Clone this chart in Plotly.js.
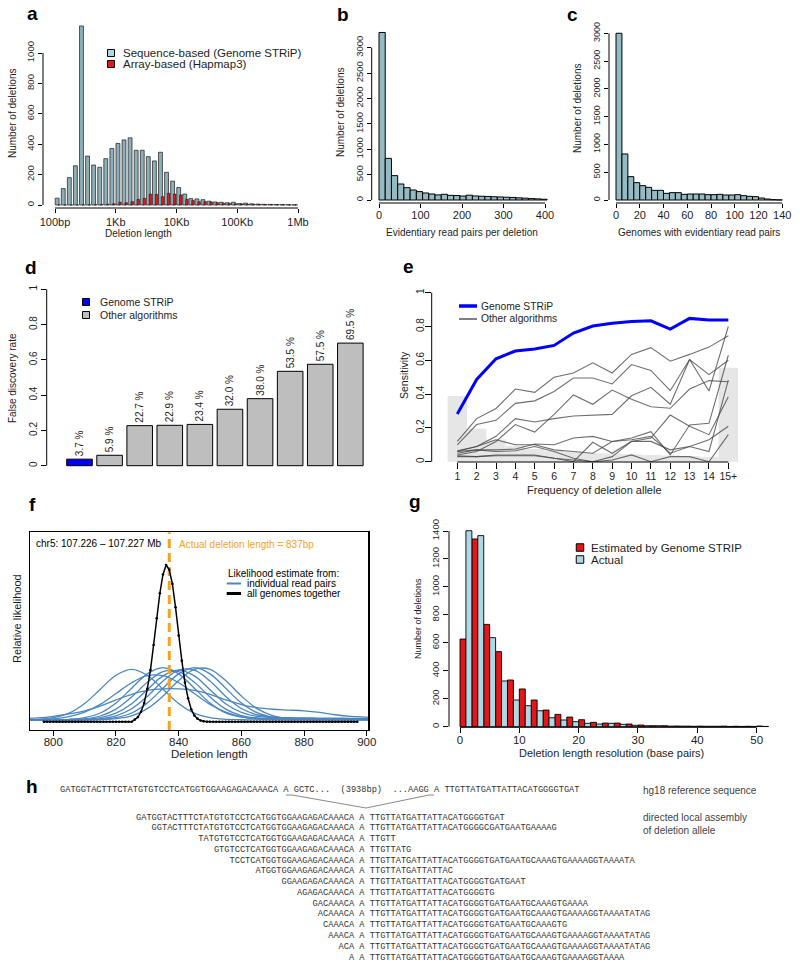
<!DOCTYPE html>
<html><head><meta charset="utf-8">
<script src="https://cdn.plot.ly/plotly-3.0.1.min.js"></script>
<style>html,body{margin:0;padding:0;background:#fff;}#fig{width:800px;height:964px;}</style>
</head><body><div id="fig"></div>
<script>
// ================= DATA =================
// --- panel a: deletion length histogram (log10 bins) ---
const aLogBinStart = 2.0;
const aLogBinWidth = 0.1;
const aSequenceBased = [45,108,180,258,1178,322,263,248,305,372,405,428,442,360,360,318,290,347,215,157,115,72,42,40,35,25,20,18,15,18,10,12,8,6,5,4,3,2,2,1];
const aArrayBased    = [0,0,0,0,0,1,2,3,5,8,18,15,22,37,44,72,70,55,77,72,66,37,29,22,22,20,15,12,10,8,7,5,5,4,3,3,2,2,1,1];
const aXTickVals = [2,3,4,5,6];
const aXTickText = ['100bp','1Kb','10Kb','100Kb','1Mb'];
const aYTickVals = [0,200,400,600,800,1000];

// --- panel b: evidentiary read pairs per deletion ---
const bBinWidth = 15;
const bCounts = [3300,820,480,315,243,197,165,138,118,100,112,92,88,78,95,80,74,70,64,60,55,50,42,36,28,22,15];
const bXTickVals = [0,100,200,300,400];
const bYTickVals = [0,500,1000,1500,2000,2500,3000];

// --- panel c: genomes with evidentiary read pairs ---
const cBinWidth = 5;
const cCounts = [3000,828,420,312,258,228,174,174,120,132,132,102,108,108,108,96,96,102,90,90,96,78,66,60,36,18,6,2];
const cXTickVals = [0,20,40,60,80,100,120,140];
const cYTickVals = [0,500,1000,1500,2000,2500,3000];

// --- panel d: false discovery rate ---
const dFDR = [0.037,0.059,0.227,0.229,0.234,0.320,0.380,0.535,0.575,0.695];
const dLabels = ['3.7 %','5.9 %','22.7 %','22.9 %','23.4 %','32.0 %','38.0 %','53.5 %','57.5 %','69.5 %'];
const dIsGenomeSTRiP = [true,false,false,false,false,false,false,false,false,false];
const dYTickVals = [0,0.2,0.4,0.6,0.8,1];
const dYTickText = ['0','0.2','0.4','0.6','0.8','1'];

// --- panel e: sensitivity by allele frequency ---
const eFreq = [1,2,3,4,5,6,7,8,9,10,11,12,13,14,15];
const eFreqLabels = ['1','2','3','4','5','6','7','8','9','10','11','12','13','14','15+'];
const eAlleleDistribution = [0.389,0.195,0.132,0.095,0.075,0.065,0.058,0.052,0.048,0.044,0.04,0.036,0.033,0.03,0.556];
const eGenomeSTRiP = [0.282,0.487,0.609,0.655,0.667,0.688,0.761,0.803,0.819,0.830,0.834,0.785,0.848,0.838,0.838];
const eOther1 = [0.12,0.255,0.315,0.43,0.41,0.50,0.525,0.585,0.525,0.635,0.675,0.595,0.635,0.678,0.745];
const eOther2 = [0.10,0.22,0.245,0.345,0.36,0.415,0.495,0.495,0.46,0.575,0.54,0.42,0.605,0.515,0.60];
const eOther3 = [0.06,0.09,0.15,0.255,0.235,0.255,0.27,0.275,0.28,0.39,0.44,0.34,0.605,0.418,0.80];
const eOther4 = [0.04,0.06,0.12,0.22,0.175,0.28,0.395,0.34,0.424,0.37,0.325,0.316,0.43,0.48,0.473];
const eOther5 = [0.065,0.09,0.13,0.10,0.10,0.07,0.06,0.05,0.12,0.13,0.15,0.05,0.09,0.06,0.483];
const eOther6 = [0.06,0.07,0.07,0.075,0.105,0.10,0.14,0.15,0.12,0.14,0.178,0.04,0.217,0.227,0.63];
const eOther7 = [0.05,0.07,0.06,0.065,0.09,0.06,0.02,0.0,0.03,0.12,0.14,0.276,0.21,0.16,0.385];
const eOther8 = [0.03,0.03,0.04,0.04,0.04,0.02,0.0,0.115,0.05,0.12,0.12,0.07,0.09,0.13,0.21];
const eOther9 = [0.035,0.03,0.035,0.035,0.035,0.02,0.01,0.0,0.01,0.04,0.0,0.03,0.03,0.0,0.16];
const eYTickVals = [0,0.2,0.4,0.6,0.8,1];
const eYTickText = ['0','0.2','0.4','0.6','0.8','1'];

// --- panel f: likelihood of deletion length ---
const fActualLength = 837;
const fBlackXStart = 797;
const fBlackY = [0,0,0,0,0,0,0,0,0,0,0,0,0,0,0,0,0,0,0,0,0,0,0,0,0,0,0,0,0,
  0.014,0.03,0.064,0.12,0.21,0.33,0.49,0.66,0.82,0.94,1.0,0.97,0.88,0.73,0.55,0.39,0.25,0.15,0.08,0.04,0.02,0.008,0.003,
  0,0,0,0,0,0,0,0,0,0,0,0,0,0,0,0,0,0,0,0,0,0,0,0,0,0,0,0,0,0,0,0,0,0,0,0,0,0,0,0,0,0,0,0,0,0,0,0,0];
const fBlueX = [790,795,800,805,810,815,820,825,830,835,840,845,850,855,860,865,870,875,880,885,890,895,900,905];
const fBlue1 = [.013,.016,.026,.055,.117,.208,.297,.335,.297,.208,.117,.055,.026,.016,.013,.012,.012,.012,.012,.012,.012,.012,.012,.012];
const fBlue2 = [.012,.012,.013,.016,.027,.056,.12,.214,.306,.345,.306,.214,.12,.056,.03,.022,.02,.02,.02,.02,.02,.019,.018,.018];
const fBlue3 = [.012,.012,.012,.014,.019,.037,.081,.158,.252,.32,.32,.252,.158,.081,.04,.025,.02,.018,.017,.016,.015,.015,.015,.015];
const fBlue4 = [.012,.012,.012,.013,.016,.026,.055,.115,.205,.293,.33,.293,.205,.115,.06,.035,.028,.026,.025,.024,.023,.022,.021,.02];
const fBlue5 = [.012,.012,.012,.012,.014,.019,.038,.083,.162,.26,.33,.33,.26,.162,.085,.045,.03,.025,.022,.02,.019,.018,.018,.018];
const fBlue6 = [.012,.012,.012,.012,.013,.016,.027,.056,.12,.214,.306,.345,.306,.214,.12,.058,.03,.02,.016,.015,.015,.015,.015,.015];
const fBlue7 = [.012,.012,.012,.012,.012,.014,.02,.038,.084,.164,.263,.335,.335,.263,.164,.084,.04,.022,.016,.014,.013,.013,.012,.012];
const fBlue8 = [.012,.014,.019,.033,.062,.111,.18,.249,.294,.294,.249,.18,.111,.062,.033,.019,.014,.012,.012,.012,.012,.012,.012,.012];
const fBlue9 = [.02,.025,.035,.05,.07,.1,.14,.175,.2,.21,.21,.2,.175,.14,.11,.09,.08,.075,.07,.06,.045,.035,.03,.025];
const fXTickVals = [800,820,840,860,880,900];

// --- panel g: deletion length resolution ---
const gPairWidth = 2;
const gEstimated = [627,1343,732,537,334,270,191,119,88,69,50,31,26,26,19,12,7,7,5,4,4,3,4,3,3,5];
const gActual    = [1402,1367,637,327,191,150,114,64,48,36,24,19,24,17,10,7,7,4,4,3,3,3,2,2,2,2];
const gXTickVals = [0,10,20,30,40,50];
const gYTickVals = [0,200,400,600,800,1000,1200,1400];

// --- panel h: sequences ---
const hReference = 'GATGGTACTTTCTATGTGTCCTCATGGTGGAAGAGACAAACA A GCTC...  (3938bp)  ...AAGG A TTGTTATGATTATTACATGGGGTGAT';
const hReadLeft = [
 'GATGGTACTTTCTATGTGTCCTCATGGTGGAAGAGACAAACA',
 'GGTACTTTCTATGTGTCCTCATGGTGGAAGAGACAAACA',
 'TATGTGTCCTCATGGTGGAAGAGACAAACA',
 'GTGTCCTCATGGTGGAAGAGACAAACA',
 'TCCTCATGGTGGAAGAGACAAACA',
 'ATGGTGGAAGAGACAAACA',
 'GGAAGAGACAAACA',
 'AGAGACAAACA',
 'GACAAACA',
 'ACAAACA',
 'CAAACA',
 'AAACA',
 'ACA',
 'A'];
const hReadRight = [
 'TTGTTATGATTATTACATGGGGTGAT',
 'TTGTTATGATTATTACATGGGGCGATGAATGAAAAG',
 'TTGTT',
 'TTGTTATG',
 'TTGTTATGATTATTACATGGGGTGATGAATGCAAAGTGAAAAGGTAAAATA',
 'TTGTTATGATTATTAC',
 'TTGTTATGATTATTACATGGGGTGATGAAT',
 'TTGTTATGATTATTACATGGGGTG',
 'TTGTTATGATTATTACATGGGGTGATGAATGCAAAGTGAAAA',
 'TTGTTATGATTATTACATGGGGTGATGAATGCAAAGTGAAAAGGTAAAATATAG',
 'TTGTTATGATTATTACATGGGGTGATGAATGCAAAGTG',
 'TTGTTATGATTATTACATGGGGTGATGAATGCAAAGTGAAAAGGTAAAATATAG',
 'TTGTTATGATTATTACATGGGGTGATGAATGCAAAGTGAAAAGGTAAAATATAG',
 'TTGTTATGATTATTACATGGGGTGATGAATGCAAAGTGAAAAGGTAAAA'];
const hReadPivot = 'A';

// ================= LAYOUT HELPERS =================
const W = 800, H = 964;
const FONT = '"Liberation Sans", Arial, Helvetica, sans-serif';
const MONO = '"Liberation Mono", "Courier New", monospace';
const TXT = '#1e1e1e';
const LB = '#94bac3';   // histogram light blue
const RED = '#e3161c';
const NB = '\u00A0';

const layout = {
  width: W, height: H, margin: {l:0, r:0, t:0, b:0},
  paper_bgcolor: '#fff', plot_bgcolor: 'rgba(0,0,0,0)',
  showlegend: false, barmode: 'overlay',
  font: {family: FONT, size: 10, color: TXT},
  shapes: [], annotations: []
};
const traces = [];
function axId(n, c) { return n === 1 ? c : c + n; }
function axKey(n, c) { return n === 1 ? c + 'axis' : c + 'axis' + n; }
function frac(r, v) { return (v - r[0]) / (r[1] - r[0]); }
function addPanel(n, p) {
  const base = {showgrid:false, zeroline:false, showline:false, fixedrange:true,
    ticks:'outside', tickcolor:'#000', tickwidth:1, tickmode:'array'};
  layout[axKey(n,'x')] = Object.assign({}, base,
    {domain:[p.box[0]/W, p.box[1]/W], range:p.xr, anchor:axId(n,'y')}, p.x);
  layout[axKey(n,'y')] = Object.assign({}, base,
    {domain:[1 - p.box[3]/H, 1 - p.box[2]/H], range:p.yr, anchor:axId(n,'x')}, p.y);
}
function rAxisLine(n, p, which, v0, v1) {
  const xref = axId(n,'x') + ' domain', yref = axId(n,'y') + ' domain';
  if (which === 'x')
    layout.shapes.push({type:'line', xref, yref, x0:frac(p.xr,v0), x1:frac(p.xr,v1), y0:0, y1:0, line:{color:'#000', width:1}});
  else
    layout.shapes.push({type:'line', xref, yref, x0:0, x1:0, y0:frac(p.yr,v0), y1:frac(p.yr,v1), line:{color:'#000', width:1}});
}
function txt(x, y, text, o) {
  o = o || {};
  layout.annotations.push({
    xref:'paper', yref:'paper', x:x/W, y:1 - y/H, text:text, showarrow:false,
    xanchor:o.xanchor || 'center', yanchor:'middle', borderpad:0,
    textangle:o.angle || 0,
    font:{family:o.family || FONT, size:o.size || 10, color:o.color || TXT, weight:o.weight || 'normal'}
  });
}
function sq(cx, cy, s, color) {
  layout.shapes.push({type:'rect', xref:'paper', yref:'paper',
    x0:(cx - s/2)/W, x1:(cx + s/2)/W, y0:1 - (cy + s/2)/H, y1:1 - (cy - s/2)/H,
    fillcolor:color, line:{color:'#000', width:1}});
}
function seg(x0, y0, x1, y1, color, width) {
  layout.shapes.push({type:'line', xref:'paper', yref:'paper',
    x0:x0/W, x1:x1/W, y0:1 - y0/H, y1:1 - y1/H, line:{color:color, width:width}});
}
const tf = (s) => ({family:FONT, size:s, color:TXT});

// ================= PANEL a =================
const pA = {box:[43,310,22,208], xr:[1.8025,6.1975], yr:[-19.7,1204],
  x:{tickvals:aXTickVals, ticktext:aXTickText, ticklen:4, tickfont:tf(11)},
  y:{tickvals:aYTickVals, tickangle:-90, ticklen:4, tickfont:tf(9.5)}};
addPanel(1, pA);
rAxisLine(1, pA, 'x', 2, 6); rAxisLine(1, pA, 'y', 0, 1000);
const aX = aSequenceBased.map((_, i) => aLogBinStart + i * aLogBinWidth);
traces.push({type:'bar', x:aX, y:aSequenceBased, offset:0.004, width:0.064, xaxis:'x', yaxis:'y',
  marker:{color:'#8eafb7', line:{color:'#1a1a1a', width:0.7}}, hoverinfo:'skip'});
traces.push({type:'bar', x:aX, y:aArrayBased, offset:0.05, width:0.042, xaxis:'x', yaxis:'y',
  marker:{color:RED, line:{color:'#1a1a1a', width:0.6}}, hoverinfo:'skip'});
txt(32, 14, 'a', {size:19, weight:'bold', color:'#000'});
txt(12, 113, 'Number of deletions', {angle:-90, size:10});
txt(138, 233, 'Deletion length', {size:10});
sq(111, 53, 7, '#add8e6'); sq(111, 64, 7, RED);
txt(122, 53, 'Sequence-based (Genome STRiP)', {xanchor:'left', size:11.5});
txt(122, 64, 'Array-based (Hapmap3)', {xanchor:'left', size:11.5});

// ================= PANEL b =================
const pB = {box:[371.7,556,28,203], xr:[-17.6,426.5], yr:[-59.1,3388],
  x:{tickvals:bXTickVals, ticklen:4, tickfont:tf(11), ticklabelstandoff:-2},
  y:{tickvals:bYTickVals, tickangle:-90, ticklen:4, tickfont:tf(9.5)}};
addPanel(2, pB);
rAxisLine(2, pB, 'x', 0, 400); rAxisLine(2, pB, 'y', 0, 3000);
traces.push({type:'bar', x:bCounts.map((_, i) => i * bBinWidth), y:bCounts, offset:0, width:bBinWidth,
  xaxis:'x2', yaxis:'y2', marker:{color:LB, line:{color:'#000', width:1}}, hoverinfo:'skip'});
txt(343, 15, 'b', {size:19, weight:'bold', color:'#000'});
txt(340, 112, 'Number of deletions', {angle:-90, size:10});
txt(462, 232, 'Evidentiary read pairs per deletion', {size:10});

// ================= PANEL c =================
const pC = {box:[609,790,25,203], xr:[-5.89,146.5], yr:[-54,3149],
  x:{tickvals:cXTickVals, ticklen:4, tickfont:tf(11), ticklabelstandoff:-2},
  y:{tickvals:cYTickVals, tickangle:-90, ticklen:4, tickfont:tf(9)}};
addPanel(3, pC);
rAxisLine(3, pC, 'x', 0, 140); rAxisLine(3, pC, 'y', 0, 3000);
traces.push({type:'bar', x:cCounts.map((_, i) => i * cBinWidth), y:cCounts, offset:0, width:cBinWidth,
  xaxis:'x3', yaxis:'y3', marker:{color:LB, line:{color:'#000', width:1}}, hoverinfo:'skip'});
txt(572, 15, 'c', {size:19, weight:'bold', color:'#000'});
txt(577, 108, 'Number of deletions', {angle:-90, size:10});
txt(699, 232, 'Genomes with evidentiary read pairs', {size:10});

// ================= PANEL d =================
const pD = {box:[46.7,372,280,470], xr:[-1.09,9.72], yr:[-0.0244,1.0527],
  x:{ticks:'', showticklabels:false},
  y:{tickvals:dYTickVals, ticktext:dYTickText, tickangle:-90, ticklen:5, tickfont:tf(10)}};
addPanel(4, pD);
rAxisLine(4, pD, 'y', 0, 1);
traces.push({type:'bar', x:dFDR.map((_, i) => i), y:dFDR, width:0.85, xaxis:'x4', yaxis:'y4',
  marker:{color:dIsGenomeSTRiP.map(b => b ? '#0000ff' : '#bebebe'), line:{color:'#000', width:1}},
  text:dLabels, textposition:'outside', textangle:-90, cliponaxis:false, constraintext:'none',
  textfont:{family:FONT, size:10, color:TXT}, hoverinfo:'skip'});
txt(31, 267, 'd', {size:19, weight:'bold', color:'#000'});
txt(13, 378, 'False discovery rate', {angle:-90, size:10});
sq(86, 302, 7, '#0000ff'); sq(86, 315, 7, '#bebebe');
txt(99, 302, 'Genome STRiP', {xanchor:'left', size:10.5});
txt(99, 315, 'Other algorithms', {xanchor:'left', size:10.5});

// ================= PANEL e =================
const pE = {box:[431.7,756,285,462], xr:[-0.3225,16.43], yr:[-0.0018,1.0456],
  x:{tickvals:eFreq, ticktext:eFreqLabels, ticklen:6, tickfont:tf(10.5), ticklabelstandoff:-2},
  y:{tickvals:eYTickVals, ticktext:eYTickText, tickangle:-90, ticklen:6, tickfont:tf(10), ticklabelstandoff:-3}};
addPanel(5, pE);
rAxisLine(5, pE, 'x', 1, 15); rAxisLine(5, pE, 'y', 0, 1);
traces.push({type:'bar', x:eFreq, y:eAlleleDistribution, width:1, xaxis:'x5', yaxis:'y5',
  marker:{color:'#e6e6e6', line:{width:0}}, hoverinfo:'skip'});
[eOther1,eOther2,eOther3,eOther4,eOther5,eOther6,eOther7,eOther8,eOther9].forEach(arr => {
  traces.push({type:'scatter', mode:'lines', x:eFreq, y:arr, xaxis:'x5', yaxis:'y5',
    line:{color:'rgba(70,70,70,0.78)', width:1.1}, hoverinfo:'skip'});
});
traces.push({type:'scatter', mode:'lines', x:eFreq, y:eGenomeSTRiP, xaxis:'x5', yaxis:'y5',
  line:{color:'#0000ff', width:3}, hoverinfo:'skip'});
txt(408, 266, 'e', {size:19, weight:'bold', color:'#000'});
txt(404, 375, 'Sensitivity', {angle:-90, size:10.5});
txt(594, 490, 'Frequency of deletion allele', {size:11});
seg(459, 306, 477, 306, '#0000ff', 3.5);
seg(459, 319, 477, 319, '#555', 1.5);
txt(480, 306, 'Genome STRiP', {xanchor:'left', size:10.3});
txt(480, 319, 'Other algorithms', {xanchor:'left', size:10.3});

// ================= PANEL f =================
const pF = {box:[30,368.3,532.3,730], xr:[792.57,900.5], yr:[-0.0523,1.2087],
  x:{tickvals:fXTickVals, ticklen:5, tickfont:tf(11.5), ticklabelstandoff:-4,
     showline:true, mirror:true, linecolor:'#000', linewidth:1.2},
  y:{ticks:'', showticklabels:false, showline:true, mirror:true, linecolor:'#000', linewidth:1.2}};
addPanel(6, pF);
[fBlue1,fBlue2,fBlue3,fBlue4,fBlue5,fBlue6,fBlue7,fBlue8,fBlue9].forEach(arr => {
  traces.push({type:'scatter', mode:'lines', x:fBlueX, y:arr, xaxis:'x6', yaxis:'y6',
    line:{color:'#4a86c1', width:1.3, shape:'spline', smoothing:1}, hoverinfo:'skip'});
});
traces.push({type:'scatter', mode:'lines', x:[fActualLength, fActualLength], y:pF.yr, xaxis:'x6', yaxis:'y6',
  line:{color:'#f5a322', width:3, dash:'9px,5px'}, hoverinfo:'skip'});
traces.push({type:'scatter', mode:'lines+markers', x:fBlackY.map((_, i) => fBlackXStart + i), y:fBlackY,
  xaxis:'x6', yaxis:'y6', line:{color:'#000', width:1.5}, marker:{color:'#000', size:2.6}, hoverinfo:'skip'});
txt(32, 504, 'f', {size:19, weight:'bold', color:'#000'});
txt(17, 619, 'Relative likelihood', {angle:-90, size:11});
txt(209, 754, 'Deletion length', {size:11.5});
txt(35, 543.5, 'chr5: 107.226 \u2013 107.227 Mb', {xanchor:'left', size:10, color:'#000'});
txt(177.5, 544.5, 'Actual deletion length = 837bp', {xanchor:'left', size:10, color:'#f5a322'});
txt(226.5, 573.5, 'Likelihood estimate from:', {xanchor:'left', size:10, color:'#000'});
seg(226.7, 583.5, 241, 583.5, '#4a86c1', 2);
seg(226.7, 593.5, 241, 593.5, '#000', 3);
txt(245.5, 583.5, 'individual read pairs', {xanchor:'left', size:10, color:'#000'});
txt(245.5, 593.5, 'all genomes together', {xanchor:'left', size:10, color:'#000'});

// ================= PANEL g =================
const pG = {box:[449,776,525,727.3], xr:[-1.854,53.26], yr:[-4.3,1443],
  x:{tickvals:gXTickVals, ticklen:5, tickfont:tf(11.5), ticklabelstandoff:-3},
  y:{tickvals:gYTickVals, tickangle:-90, ticklen:5, tickfont:tf(9.5)}};
addPanel(7, pG);
rAxisLine(7, pG, 'x', 0, 50); rAxisLine(7, pG, 'y', 0, 1400);
traces.push({type:'bar', x:gEstimated.map((_, k) => k * gPairWidth), y:gEstimated, offset:0, width:gPairWidth/2,
  xaxis:'x7', yaxis:'y7', marker:{color:RED, line:{color:'#000', width:0.9}}, hoverinfo:'skip'});
traces.push({type:'bar', x:gActual.map((_, k) => k * gPairWidth + gPairWidth/2), y:gActual, offset:0, width:gPairWidth/2,
  xaxis:'x7', yaxis:'y7', marker:{color:'#add8e6', line:{color:'#000', width:0.9}}, hoverinfo:'skip'});
txt(415, 501, 'g', {size:19, weight:'bold', color:'#000'});
txt(418, 619, 'Number of deletions', {angle:-90, size:9});
txt(611, 753, 'Deletion length resolution (base pairs)', {size:11});
sq(580, 547.5, 7.5, RED); sq(580, 559.5, 7.5, '#add8e6');
txt(590, 547.5, 'Estimated by Genome STRIP', {xanchor:'left', size:11.5});
txt(590, 559.5, 'Actual', {xanchor:'left', size:11.5});

// ================= PANEL h =================
txt(32, 786, 'h', {size:19, weight:'bold', color:'#000'});
const seqColor = '#333';
txt(59, 790, hReference.replace(/ /g, NB), {xanchor:'left', family:MONO, size:8.67, color:seqColor});
const prefixLen = hReadLeft[0].length;
hReadLeft.forEach((left, k) => {
  const s = NB.repeat(prefixLen - left.length) + left + NB + hReadPivot + NB + hReadRight[k];
  txt(134.5, 817.5 + 10.77 * k, s, {xanchor:'left', family:MONO, size:8.67, color:seqColor});
});
txt(641.5, 790, 'hg18 reference sequence', {xanchor:'left', size:10, color:'#444'});
txt(641.5, 817, 'directed local assembly', {xanchor:'left', size:10, color:'#444'});
txt(641.5, 830, 'of deletion allele', {xanchor:'left', size:10, color:'#444'});
// connector lines from the reference to the assembled breakpoint
const vPts = [[286,795],[292,795],[366,808],[429,795],[434,795]];
layout.shapes.push({type:'path', xref:'paper', yref:'paper',
  path:'M' + vPts.map(p => (p[0]/W) + ',' + (1 - p[1]/H)).join(' L'),
  line:{color:'#8a8a8a', width:1}});

Plotly.newPlot('fig', traces, layout, {staticPlot:true, displayModeBar:false});
</script>
</body></html>
